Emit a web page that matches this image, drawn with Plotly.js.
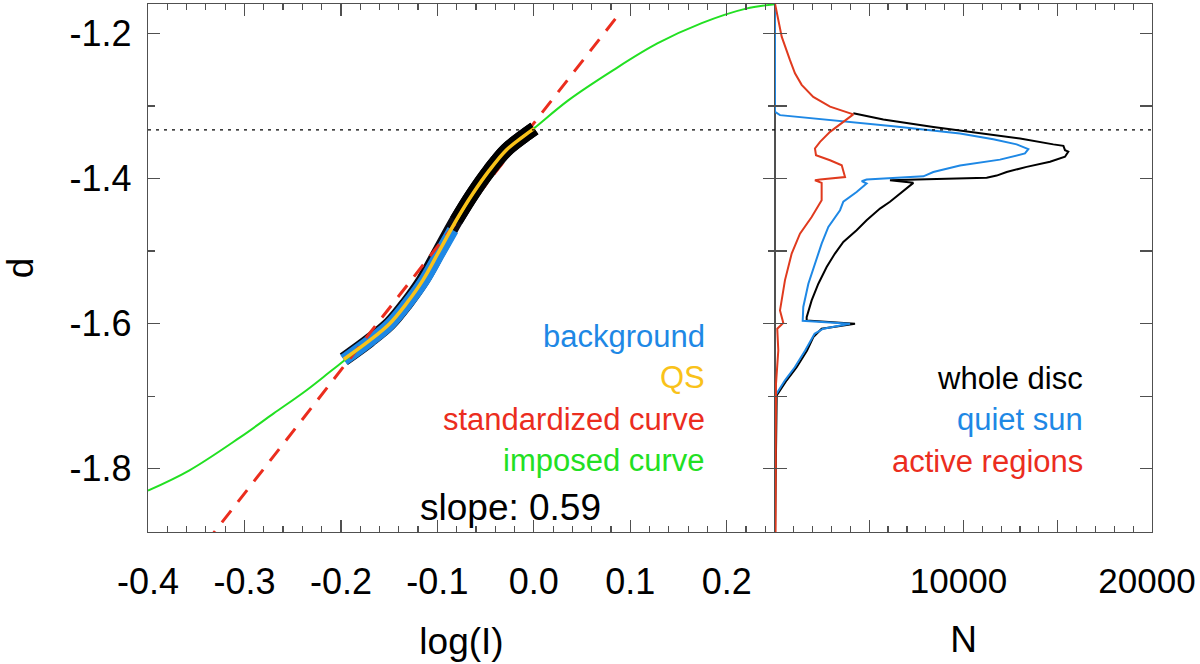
<!DOCTYPE html>
<html>
<head>
<meta charset="utf-8">
<script src="https://cdn.plot.ly/plotly-3.0.1.min.js"></script>
<style>
  html, body { margin: 0; padding: 0; background: #fff; }
  #chart { width: 1200px; height: 664px; }
</style>
</head>
<body>
<div id="chart"></div>
<script>
// left panel: d vs log(I)
const qsLogI = [-0.197, -0.1702, -0.1495, -0.1322, -0.115, -0.0977, -0.0804, -0.0632, -0.046, -0.0287, -0.0115, 0.0006];
const qsD = [-1.649, -1.623, -1.600, -1.5724, -1.540, -1.4989, -1.4575, -1.4207, -1.3885, -1.361, -1.3426, -1.331];

const bgLogI = [-0.197, -0.1702, -0.1495, -0.1322, -0.115, -0.0977, -0.084];
const bgD = [-1.650, -1.624, -1.601, -1.574, -1.543, -1.503, -1.471];

const stdLogI = [-0.34, 0.091];
const stdD = [-1.902, -1.169];

const imposedLogI = [-0.400, -0.357, -0.305, -0.270, -0.236, -0.212, -0.194, -0.170, -0.150, -0.132, -0.115,
  -0.098, -0.080, -0.063, -0.046, -0.029, -0.012, 0.000, 0.036, 0.082, 0.128, 0.174, 0.220, 0.250];
const imposedD = [-1.830, -1.802, -1.757, -1.724, -1.692, -1.667, -1.648, -1.623, -1.600, -1.572, -1.540,
  -1.499, -1.458, -1.421, -1.389, -1.361, -1.343, -1.331, -1.292, -1.251, -1.214, -1.186, -1.166, -1.160];

const dRef = -1.333;

// right panel: histograms N vs d
const wholeD = [-1.310, -1.3187, -1.329, -1.336, -1.345, -1.353, -1.355, -1.361, -1.363, -1.370, -1.377, -1.384,
  -1.391, -1.396, -1.399, -1.401, -1.4024, -1.406, -1.4207, -1.432, -1.4414, -1.4575, -1.4713, -1.4874, -1.5034,
  -1.522, -1.545, -1.568, -1.591, -1.5955, -1.600, -1.607, -1.6185, -1.637, -1.660, -1.678, -1.699, -1.887];
const wholeN = [4155, 5747, 8400, 10520, 13000, 14765, 15300, 15385, 15560, 15385, 14590, 13350,
  12290, 11760, 11230, 8050, 6100, 7340, 6630, 6100, 5570, 4860, 4330, 3625, 3180,
  2740, 2300, 1945, 1680, 1680, 4245, 2475, 2035, 1700, 1150, 620, 90, 0];

const quietD = [-1.160, -1.308, -1.3127, -1.3187, -1.328, -1.338, -1.346, -1.353, -1.3596, -1.3655, -1.374, -1.382,
  -1.391, -1.397, -1.4014, -1.4037, -1.407, -1.4185, -1.432, -1.4437, -1.4667, -1.4897, -1.517, -1.545, -1.577,
  -1.596, -1.600, -1.607, -1.614, -1.637, -1.660, -1.678, -1.700, -1.887];
const quietN = [0, 0, 265, 2740, 6275, 9815, 11580, 12820, 13440, 13260, 11935, 9815,
  8400, 7870, 4860, 4600, 4860, 4330, 3625, 3450, 2830, 2475, 2120, 1770, 1500,
  1470, 3980, 2560, 2100, 1600, 1050, 530, 0, 0];

const activeD = [-1.159, -1.182, -1.2046, -1.237, -1.255, -1.271, -1.2875, -1.301, -1.3117, -1.322, -1.3357, -1.3495,
  -1.3586, -1.368, -1.3748, -1.3817, -1.398, -1.4014, -1.4024, -1.406, -1.430, -1.453, -1.476, -1.5034, -1.540,
  -1.5817, -1.599, -1.607, -1.637, -1.683, -1.887];
const activeN = [0, 175, 355, 795, 1060, 1415, 2030, 2920, 4155, 3625, 2920, 2390,
  2120, 2175, 2920, 3540, 3715, 2390, 2120, 2475, 2475, 1945, 1325, 885, 530,
  265, 440, 120, 175, 53, 30];

// ticks
const xTickVals = [-0.4, -0.3, -0.2, -0.1, 0.0, 0.1, 0.2];
const xTickText = ["-0.4", "-0.3", "-0.2", "-0.1", "0.0", "0.1", "0.2"];
const nTickVals = [0, 5000, 10000, 15000, 20000];
const nTickText = ["", "", "10000", "", "20000"];
const yTickVals = [-1.8, -1.6, -1.4, -1.2];
const yTickText = ["-1.8", "-1.6", "-1.4", "-1.2"];

const BLUE = "#1e88e5";
const GOLD = "#f9c21a";
const RED = "#eb2d1e";
const GREEN = "#22e022";
const FONT = "Liberation Sans, Arial, Helvetica, sans-serif";
const AXC = "#505050";

const data = [
  { x: qsLogI, y: qsD, type: "scatter", mode: "lines", line: { color: "#0a0a14", width: 14, shape: "spline" }, hoverinfo: "skip" },
  { x: bgLogI, y: bgD, type: "scatter", mode: "lines", line: { color: BLUE, width: 12, shape: "spline" }, hoverinfo: "skip" },
  { x: stdLogI, y: stdD, type: "scatter", mode: "lines", line: { color: RED, width: 3, dash: "15px,11px" }, hoverinfo: "skip" },
  { x: qsLogI.slice(6), y: qsD.slice(6), type: "scatter", mode: "lines", line: { color: "#000", width: 14, shape: "spline" }, hoverinfo: "skip" },
  { x: imposedLogI, y: imposedD, type: "scatter", mode: "lines", line: { color: GREEN, width: 2, shape: "spline" }, hoverinfo: "skip" },
  { x: qsLogI, y: qsD, type: "scatter", mode: "lines", line: { color: GOLD, width: 3.5, shape: "spline" }, hoverinfo: "skip" },

  { x: wholeN, y: wholeD, xaxis: "x2", yaxis: "y", type: "scatter", mode: "lines", line: { color: "#000", width: 2 }, hoverinfo: "skip" },
  { x: quietN, y: quietD, xaxis: "x2", yaxis: "y", type: "scatter", mode: "lines", line: { color: BLUE, width: 2 }, hoverinfo: "skip" },
  { x: activeN, y: activeD, xaxis: "x2", yaxis: "y", type: "scatter", mode: "lines", line: { color: "#e03a1e", width: 2 }, hoverinfo: "skip" }
];

const axisBase = {
  showline: true, linecolor: AXC, linewidth: 1.2,
  ticks: "inside", ticklen: 12, tickwidth: 1.2, tickcolor: AXC,
  showgrid: false, zeroline: false,
  ticklabeloverflow: "allow",
  tickfont: { family: FONT, size: 36, color: "#000" }
};

const layout = {
  width: 1200, height: 664,
  margin: { l: 148, r: 48, t: 4, b: 132 },
  paper_bgcolor: "#fff", plot_bgcolor: "#fff",
  showlegend: false,
  xaxis: Object.assign({}, axisBase, {
    domain: [0, 0.6245], range: [-0.4, 0.25],
    tickmode: "array", tickvals: xTickVals, ticktext: xTickText,
    mirror: "ticks", ticklabelstandoff: 18,
    minor: { tickmode: "linear", tick0: -0.4, dtick: 0.02, ticks: "inside", ticklen: 6, tickcolor: AXC, tickwidth: 1.2 },
    title: { text: "log(I)", font: { family: FONT, size: 37, color: "#000" }, standoff: 26 }
  }),
  xaxis2: Object.assign({}, axisBase, {
    domain: [0.6245, 1], range: [0, 20000], anchor: "y",
    tickmode: "array", tickvals: nTickVals, ticktext: nTickText,
    mirror: "ticks", ticklabelstandoff: 18, ticklabelshift: -5,
    tickfont: { family: FONT, size: 35, color: "#000" },
    minor: { tickmode: "linear", tick0: 0, dtick: 1000, ticks: "inside", ticklen: 6, tickcolor: AXC, tickwidth: 1.2 },
    title: { text: "N", font: { family: FONT, size: 37, color: "#000" }, standoff: 26 }
  }),
  yaxis: Object.assign({}, axisBase, {
    range: [-1.887, -1.1596],
    tickmode: "array", tickvals: yTickVals, ticktext: yTickText,
    mirror: "allticks", ticklabelstandoff: 8,
    minor: { tickmode: "linear", tick0: -1.2, dtick: 0.1, ticks: "inside", ticklen: 7, tickcolor: AXC, tickwidth: 1.2 },
    title: { text: "d", font: { family: FONT, size: 37, color: "#000" }, standoff: 54 }
  }),
  shapes: [
    { type: "line", xref: "paper", yref: "y", x0: 0, x1: 1, y0: dRef, y1: dRef,
      line: { color: "#000", width: 1.2, dash: "3px,5px" } }
  ],
  annotations: [
    { text: "background", x: 0.18, y: -1.6175, color: BLUE },
    { text: "QS", x: 0.18, y: -1.674, color: GOLD },
    { text: "standardized curve", x: 0.18, y: -1.732, color: RED },
    { text: "imposed curve", x: 0.18, y: -1.789, color: GREEN }
  ].map(a => ({
    text: a.text, xref: "x", yref: "y", x: a.x, y: a.y, xanchor: "right", yanchor: "middle",
    showarrow: false, font: { family: FONT, size: 31, color: a.color }
  })).concat([
    { text: "slope: 0.59", xref: "x", yref: "y", x: -0.0242, y: -1.853, xanchor: "center", yanchor: "middle",
      showarrow: false, font: { family: FONT, size: 37, color: "#000" } }
  ]).concat([
    { text: "whole disc", y: -1.675, color: "#000" },
    { text: "quiet sun", y: -1.732, color: BLUE },
    { text: "active regions", y: -1.790, color: RED }
  ].map(a => ({
    text: a.text, xref: "x2", yref: "y", x: 16445, y: a.y, xanchor: "right", yanchor: "middle",
    showarrow: false, font: { family: FONT, size: 31, color: a.color }
  })))
};

Plotly.newPlot("chart", data, layout, { displayModeBar: false, staticPlot: true });
</script>
</body>
</html>
